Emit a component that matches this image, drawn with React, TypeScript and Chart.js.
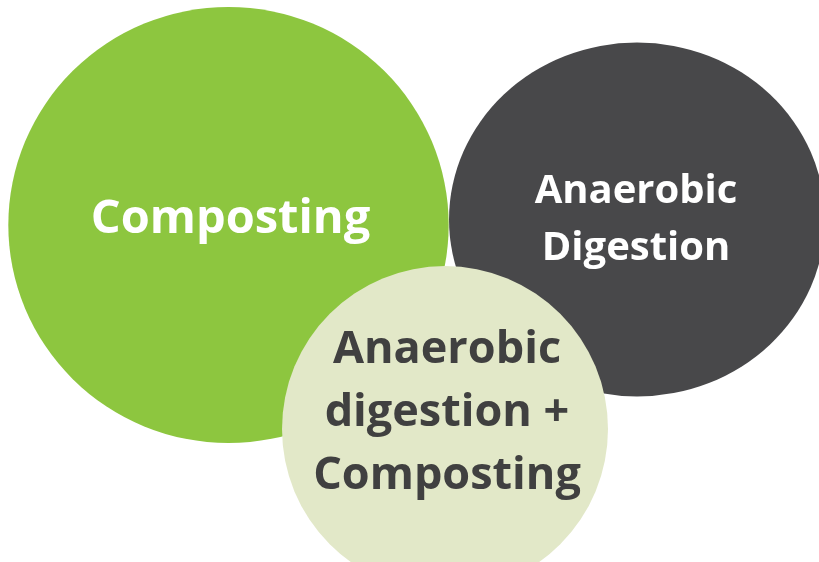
import React, { useEffect, useRef } from "react";
import { Chart, registerables } from "chart.js";

Chart.register(...registerables);

// Data (listed bottom-most first)
const categories = ["Composting", "Anaerobic Digestion", "Anaerobic digestion + Composting"];
const centerX = [228.5, 637, 445];
const centerY = [225, 219.5, 429];
const radii = [218, 177, 163];
const labelLines = [["Composting"], ["Anaerobic", "Digestion"], ["Anaerobic", "digestion +", "Composting"]];

// Styles
const fillColors = ["#8DC63F", "#48484A", "#E2E8C8"];
const textColors = ["#FFFFFF", "#FFFFFF", "#404040"];
const fontSizes = [47, 40, 45];
const lineHeights = [60, 57, 63];
const firstBaselineOffset = [8, -17, -66];
const textOffsetX = [2, -1, 2];
const horizontalStretch = [1.01, 1.062, 1];

// dataset index 0 is painted last in Chart.js, so build datasets top-most first
const drawOrder = [2, 1, 0];

const stretchPlugin = {
  id: "stretch",
  beforeDatasetDraw(chart: any, args: any) {
    const i = chart.data.datasets[args.index].catIndex;
    const el = args.meta.data[0];
    const ctx = chart.ctx;
    ctx.save();
    ctx.translate(el.x, el.y);
    ctx.scale(horizontalStretch[i], 1);
    ctx.translate(-el.x, -el.y);
  },
  afterDatasetDraw(chart: any) {
    chart.ctx.restore();
  },
};

const labelPlugin = {
  id: "circleLabels",
  afterDatasetsDraw(chart: any) {
    const ctx = chart.ctx;
    chart.data.datasets.forEach((ds: any, d: number) => {
      const i = ds.catIndex;
      const el = chart.getDatasetMeta(d).data[0];
      ctx.save();
      ctx.fillStyle = textColors[i];
      ctx.font = `bold ${fontSizes[i]}px "Open Sans", sans-serif`;
      ctx.textAlign = "center";
      ctx.textBaseline = "alphabetic";
      labelLines[i].forEach((line, j) => {
        ctx.fillText(line, el.x + textOffsetX[i], el.y + firstBaselineOffset[i] + j * lineHeights[i]);
      });
      ctx.restore();
    });
  },
};

export default function App() {
  const ref = useRef<HTMLCanvasElement>(null);
  useEffect(() => {
    document.body.style.margin = "0";
    const chart = new Chart(ref.current!, {
      type: "bubble",
      data: {
        datasets: drawOrder.map((i) => ({
          label: categories[i],
          catIndex: i,
          data: [{ x: centerX[i], y: centerY[i], r: radii[i] }],
          backgroundColor: fillColors[i],
          borderWidth: 0,
          hoverBorderWidth: 0,
          clip: false as any,
        })) as any,
      },
      options: {
        animation: false,
        responsive: false,
        maintainAspectRatio: false,
        layout: { padding: 0, autoPadding: false },
        events: [],
        plugins: { legend: { display: false }, tooltip: { enabled: false } },
        scales: {
          x: { type: "linear", min: 0, max: 819, display: false },
          y: { type: "linear", min: 0, max: 562, reverse: true, display: false },
        },
      },
      plugins: [stretchPlugin, labelPlugin],
    });
    return () => chart.destroy();
  }, []);
  return (
    <div style={{ width: 819, height: 562, background: "#fff" }}>
      <canvas ref={ref} width={819} height={562} style={{ display: "block" }} />
    </div>
  );
}
